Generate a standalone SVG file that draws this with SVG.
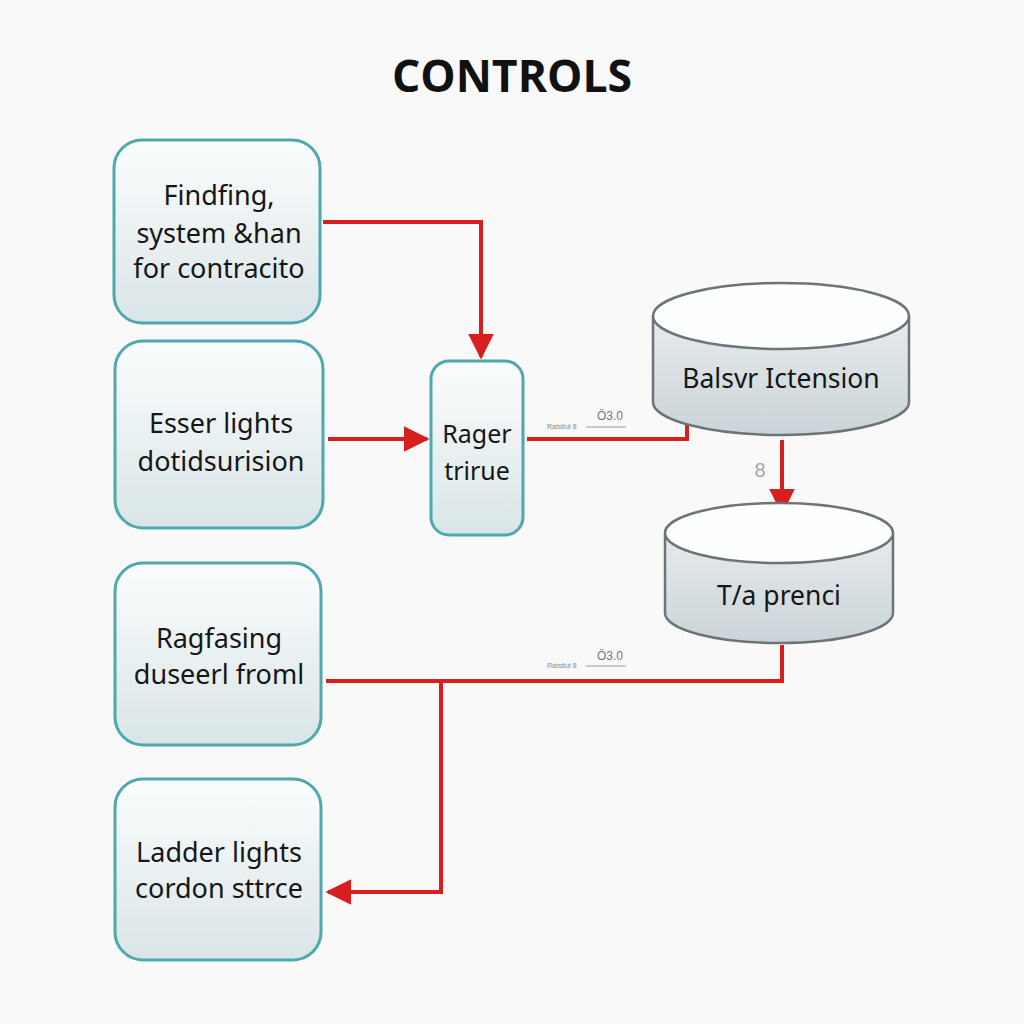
<svg xmlns="http://www.w3.org/2000/svg" width="1024" height="1024" viewBox="0 0 1024 1024">
<defs>
<linearGradient id="boxg" x1="0" y1="0" x2="0" y2="1">
<stop offset="0" stop-color="#fbfdfd"/>
<stop offset="1" stop-color="#d9e5e8"/>
</linearGradient>
<linearGradient id="cylg" x1="0" y1="0" x2="0" y2="1">
<stop offset="0" stop-color="#e6ebed"/>
<stop offset="1" stop-color="#cbd4d8"/>
</linearGradient>
<marker id="arr" viewBox="0 0 10 10" refX="9" refY="5" markerWidth="6.5" markerHeight="6.5" markerUnits="strokeWidth" orient="auto">
<path d="M0,0 L10,5 L0,10 z" fill="#d81e1e"/>
</marker>
</defs>
<style>
.box{fill:url(#boxg);stroke:#4fa8ac;stroke-width:3}
.cyl{fill:url(#cylg);stroke:#6c7478;stroke-width:2.5}
.cyltop{fill:#fdfefe;stroke:#6c7478;stroke-width:2.5}
.t{font-family:"Noto Sans","Open Sans",sans-serif;font-size:27px;fill:#161616;text-anchor:middle}
.c{fill:none;stroke:#d81e1e;stroke-width:4}
.s{font-family:"Liberation Sans",sans-serif;font-size:7px;fill:#8a8a8a}
.s2{font-family:"Liberation Sans",sans-serif;font-size:12px;fill:#777}
.sl{stroke:#9a9a9a;stroke-width:1}
</style>
<rect width="1024" height="1024" fill="#f8f9f8"/>
<text x="512" y="92" font-family="'Open Sans','Noto Sans',sans-serif" font-weight="bold" font-size="44.5" text-anchor="middle" fill="#111">CONTROLS</text>

<g id="connectors">
<path class="c" d="M323,222 H481 V357" marker-end="url(#arr)"/>
<path class="c" d="M328,439 H427" marker-end="url(#arr)"/>
<path class="c" d="M527,439 H687 V404"/>
<path class="c" d="M782,440 V512" marker-end="url(#arr)"/>
<path class="c" d="M782,645 V681 H326"/>
<path class="c" d="M441,681 V892 H328" marker-end="url(#arr)"/>
<g id="conn-labels">
<text class="s" x="547" y="429">Ratstlut 8</text>
<line class="sl" x1="586" y1="427" x2="626" y2="427"/>
<text class="s2" x="597" y="420">Ö3.0</text>
<text class="s" x="547" y="668">Ratstlut 8</text>
<line class="sl" x1="586" y1="666" x2="626" y2="666"/>
<text class="s2" x="597" y="660">Ö3.0</text>
<text x="760" y="477" font-family="'Liberation Sans',sans-serif" font-size="20" fill="#a8a8a8" text-anchor="middle">8</text>
</g>
</g>

<g id="n1">
<rect class="box" x="114" y="140" width="206" height="183" rx="28"/>
<text class="t" x="219" y="205">Findfing,</text>
<text class="t" x="219" y="243">system &amp;han</text>
<text class="t" x="219" y="278">for contracito</text>
</g>
<g id="n2">
<rect class="box" x="115" y="341" width="208" height="187" rx="28"/>
<text class="t" x="221" y="433">Esser lights</text>
<text class="t" x="221" y="471">dotidsurision</text>
</g>
<g id="n3">
<rect class="box" x="115" y="563" width="206" height="182" rx="28"/>
<text class="t" x="219" y="648">Ragfasing</text>
<text class="t" x="219" y="684">duseerl froml</text>
</g>
<g id="n4">
<rect class="box" x="115" y="779" width="206" height="181" rx="28"/>
<text class="t" x="219" y="862">Ladder lights</text>
<text class="t" x="219" y="898">cordon sttrce</text>
</g>
<g id="n5">
<rect class="box" x="431" y="361" width="92" height="174" rx="18"/>
<text class="t" x="477" y="443" style="font-size:25px">Rager</text>
<text class="t" x="477" y="480" style="font-size:25px">trirue</text>
</g>
<g id="n6">
<path class="cyl" d="M653,316 V402 A128,33 0 0 0 909,402 V316"/>
<ellipse class="cyltop" cx="781" cy="316" rx="128" ry="33"/>
<text class="t" x="781" y="388" style="font-size:26.5px">Balsvr Ictension</text>
</g>
<g id="n7">
<path class="cyl" d="M665,533 V613 A114,30 0 0 0 893,613 V533"/>
<ellipse class="cyltop" cx="779" cy="533" rx="114" ry="30"/>
<text class="t" x="779" y="605" style="font-size:26.5px">T/a prenci</text>
</g>
</svg>
